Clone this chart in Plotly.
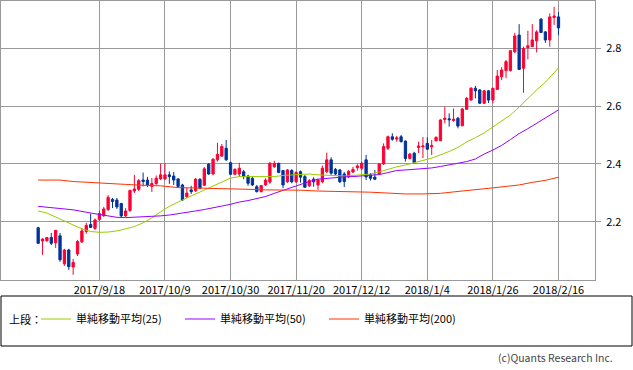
import pandas as pd
import plotly.graph_objects as go

# ---- categories: trading days (US bond market) ----
holidays = ["2017-09-04", "2017-11-23", "2017-12-25", "2018-01-01", "2018-01-15"]
dates = [d.strftime("%Y-%m-%d") for d in pd.bdate_range("2017-08-28", "2018-02-16")
         if d.strftime("%Y-%m-%d") not in holidays]

tick_dates = ["2017-09-18", "2017-10-09", "2017-10-30", "2017-11-20",
              "2017-12-12", "2018-01-04", "2018-01-26", "2018-02-16"]
tick_text = ["2017/9/18", "2017/10/9", "2017/10/30", "2017/11/20",
             "2017/12/12", "2018/1/4", "2018/1/26", "2018/2/16"]
y_ticks = [2.2, 2.4, 2.6, 2.8]

# ---- OHLC ----
open_ = [
    2.179, 2.133, 2.134, 2.145, 2.127, 2.151, 2.054, 2.102, 2.043, 2.088,
    2.130, 2.166, 2.190, 2.177, 2.208, 2.221, 2.242, 2.277, 2.275, 2.263,
    2.220, 2.239, 2.306, 2.312, 2.344, 2.344, 2.322, 2.332, 2.348, 2.348,
    2.362, 2.358, 2.348, 2.327, 2.286, 2.310, 2.307, 2.347, 2.326, 2.399,
    2.365, 2.414, 2.427, 2.454, 2.404, 2.364, 2.365, 2.373, 2.358, 2.350,
    2.321, 2.304, 2.327, 2.337, 2.390, 2.402, 2.377, 2.338, 2.377, 2.338,
    2.373, 2.356, 2.324, 2.347, 2.327, 2.338, 2.373, 2.414, 2.381, 2.379,
    2.365, 2.355, 2.372, 2.387, 2.385, 2.414, 2.362, 2.354, 2.365, 2.400,
    2.454, 2.494, 2.486, 2.494, 2.479, 2.419, 2.437, 2.457, 2.459, 2.471,
    2.459, 2.480, 2.480, 2.554, 2.556, 2.550, 2.558, 2.532, 2.589, 2.621,
    2.662, 2.656, 2.610, 2.653, 2.621, 2.658, 2.702, 2.723, 2.723, 2.788,
    2.846, 2.731, 2.803, 2.806, 2.826, 2.901, 2.857, 2.829, 2.907, 2.909,
]
high = [
    2.182, 2.142, 2.147, 2.161, 2.171, 2.161, 2.106, 2.106, 2.071, 2.137,
    2.178, 2.196, 2.228, 2.211, 2.237, 2.251, 2.292, 2.282, 2.282, 2.265,
    2.247, 2.311, 2.362, 2.348, 2.370, 2.355, 2.351, 2.360, 2.401, 2.403,
    2.374, 2.372, 2.350, 2.331, 2.317, 2.324, 2.351, 2.350, 2.389, 2.403,
    2.420, 2.473, 2.469, 2.483, 2.408, 2.385, 2.404, 2.379, 2.362, 2.356,
    2.327, 2.327, 2.350, 2.407, 2.411, 2.404, 2.379, 2.382, 2.382, 2.375,
    2.377, 2.362, 2.348, 2.354, 2.349, 2.394, 2.439, 2.423, 2.386, 2.382,
    2.372, 2.379, 2.390, 2.399, 2.408, 2.431, 2.368, 2.379, 2.403, 2.471,
    2.498, 2.506, 2.497, 2.500, 2.481, 2.438, 2.442, 2.477, 2.493, 2.492,
    2.483, 2.495, 2.555, 2.598, 2.575, 2.592, 2.563, 2.593, 2.632, 2.666,
    2.670, 2.659, 2.656, 2.656, 2.663, 2.725, 2.735, 2.760, 2.794, 2.854,
    2.884, 2.806, 2.861, 2.884, 2.863, 2.905, 2.860, 2.921, 2.944, 2.926,
]
low = [
    2.123, 2.085, 2.130, 2.119, 2.109, 2.061, 2.047, 2.033, 2.016, 2.081,
    2.126, 2.158, 2.178, 2.171, 2.202, 2.216, 2.237, 2.247, 2.244, 2.215,
    2.216, 2.234, 2.299, 2.306, 2.322, 2.320, 2.303, 2.327, 2.344, 2.344,
    2.331, 2.327, 2.318, 2.272, 2.282, 2.296, 2.303, 2.312, 2.324, 2.362,
    2.362, 2.408, 2.424, 2.411, 2.362, 2.362, 2.356, 2.347, 2.324, 2.324,
    2.301, 2.301, 2.324, 2.331, 2.386, 2.368, 2.316, 2.334, 2.333, 2.334,
    2.335, 2.317, 2.320, 2.321, 2.310, 2.333, 2.368, 2.362, 2.360, 2.334,
    2.320, 2.351, 2.368, 2.377, 2.379, 2.344, 2.342, 2.344, 2.362, 2.396,
    2.448, 2.480, 2.477, 2.474, 2.408, 2.416, 2.402, 2.438, 2.420, 2.448,
    2.431, 2.478, 2.479, 2.541, 2.529, 2.546, 2.523, 2.531, 2.587, 2.619,
    2.627, 2.607, 2.607, 2.611, 2.610, 2.656, 2.690, 2.697, 2.720, 2.783,
    2.725, 2.646, 2.762, 2.806, 2.786, 2.853, 2.819, 2.806, 2.881, 2.846,
]
close = [
    2.125, 2.140, 2.145, 2.125, 2.170, 2.068, 2.102, 2.044, 2.059, 2.131,
    2.168, 2.187, 2.180, 2.206, 2.228, 2.244, 2.284, 2.270, 2.251, 2.220,
    2.237, 2.308, 2.313, 2.342, 2.339, 2.327, 2.332, 2.350, 2.362, 2.362,
    2.356, 2.344, 2.322, 2.275, 2.299, 2.304, 2.347, 2.316, 2.383, 2.365,
    2.416, 2.433, 2.460, 2.414, 2.364, 2.381, 2.385, 2.356, 2.333, 2.327,
    2.304, 2.325, 2.344, 2.402, 2.401, 2.370, 2.327, 2.379, 2.338, 2.370,
    2.354, 2.319, 2.342, 2.338, 2.344, 2.385, 2.414, 2.368, 2.365, 2.338,
    2.339, 2.374, 2.381, 2.393, 2.402, 2.355, 2.350, 2.347, 2.400, 2.460,
    2.494, 2.485, 2.490, 2.477, 2.419, 2.434, 2.404, 2.462, 2.462, 2.451,
    2.464, 2.492, 2.552, 2.558, 2.553, 2.555, 2.531, 2.590, 2.627, 2.662,
    2.653, 2.610, 2.653, 2.621, 2.662, 2.704, 2.725, 2.754, 2.792, 2.843,
    2.727, 2.800, 2.809, 2.829, 2.857, 2.855, 2.829, 2.909, 2.912, 2.871,
]

# ---- moving averages (read at sampled trading-day indices) ----
ma25_idx = [0, 2, 4, 6, 8, 10, 12, 14, 16, 18, 20, 22, 24, 26, 28, 30, 32, 34, 36, 38,
            40, 42, 44, 46, 48, 50, 52, 54, 56, 58, 60, 62, 64, 66, 68, 70, 72, 74, 76, 78,
            80, 82, 84, 86, 88, 90, 92, 94, 96, 98, 100, 102, 104, 106, 108, 110, 112, 114,
            116, 118, 119]
ma25_val = [2.237, 2.230, 2.216, 2.202, 2.189, 2.175, 2.166, 2.163, 2.164, 2.168,
            2.175, 2.183, 2.196, 2.213, 2.234, 2.253, 2.268, 2.282, 2.296, 2.310,
            2.324, 2.339, 2.351, 2.356, 2.356, 2.355, 2.354, 2.356, 2.360, 2.362,
            2.363, 2.365, 2.362, 2.360, 2.358, 2.358, 2.360, 2.362, 2.365, 2.372,
            2.381, 2.390, 2.396, 2.403, 2.412, 2.420, 2.431, 2.443, 2.457, 2.476,
            2.491, 2.507, 2.528, 2.547, 2.569, 2.597, 2.628, 2.656, 2.683, 2.718, 2.732]

ma50_idx = [0, 4, 8, 12, 16, 18, 20, 22, 24, 26, 28, 30, 32, 34, 36, 38, 40, 42, 44, 46,
            48, 50, 52, 54, 56, 58, 60, 62, 64, 66, 68, 70, 72, 74, 76, 78, 80, 82, 84, 86,
            88, 90, 92, 94, 96, 98, 100, 102, 104, 106, 108, 110, 112, 114, 116, 118, 119]
ma50_val = [2.253, 2.247, 2.241, 2.230, 2.220, 2.215, 2.214, 2.215, 2.216, 2.218,
            2.220, 2.223, 2.227, 2.232, 2.237, 2.242, 2.247, 2.254, 2.260, 2.268,
            2.273, 2.280, 2.287, 2.298, 2.308, 2.320, 2.329, 2.339, 2.347, 2.350,
            2.351, 2.355, 2.356, 2.358, 2.360, 2.363, 2.370, 2.377, 2.379, 2.381,
            2.383, 2.386, 2.391, 2.396, 2.401, 2.408, 2.417, 2.434, 2.448, 2.464,
            2.484, 2.505, 2.522, 2.540, 2.559, 2.576, 2.587]

ma200_idx = [0, 5, 8, 12, 16, 20, 24, 28, 32, 36, 40, 44, 48, 52, 56, 60, 64, 68, 72, 76,
             80, 84, 88, 90, 92, 95, 98, 101, 104, 107, 110, 113, 116, 119]
ma200_val = [2.344, 2.344, 2.339, 2.335, 2.331, 2.329, 2.326, 2.324, 2.318, 2.317,
             2.316, 2.313, 2.312, 2.310, 2.310, 2.309, 2.306, 2.305, 2.304, 2.302,
             2.299, 2.296, 2.296, 2.296, 2.298, 2.303, 2.307, 2.312, 2.317, 2.322,
             2.327, 2.336, 2.343, 2.354]

ma_names = ["単純移動平均(25)", "単純移動平均(50)", "単純移動平均(200)"]
ma_colors = ["#99cc00", "#9900ff", "#ff3300"]
legend_title = "上段："

FONT = "Noto Sans CJK JP, sans-serif"

fig = go.Figure()
fig.add_trace(go.Candlestick(
    x=dates, open=open_, high=high, low=low, close=close,
    increasing=dict(line=dict(color="#ff0033", width=1), fillcolor="#ff0033"),
    decreasing=dict(line=dict(color="#003399", width=1), fillcolor="#003399"),
    showlegend=False, hoverinfo="skip",
))
for idx, val, name, col in [(ma25_idx, ma25_val, ma_names[0], ma_colors[0]),
                            (ma50_idx, ma50_val, ma_names[1], ma_colors[1]),
                            (ma200_idx, ma200_val, ma_names[2], ma_colors[2])]:
    fig.add_trace(go.Scatter(
        x=[dates[i] for i in idx], y=val, mode="lines", name=name,
        line=dict(color=col, width=1), hoverinfo="skip",
    ))

W, H = 633, 370
ml, mr, mt, mb = 1, 38, 1, 90
pw, ph = W - ml - mr, H - mt - mb


def px_x(x):
    return (x - ml) / pw


def px_y(y):
    return (H - mb - y) / ph


fig.update_layout(
    width=W, height=H,
    margin=dict(l=ml, r=mr, t=mt, b=mb, pad=0),
    paper_bgcolor="white", plot_bgcolor="white",
    font=dict(family=FONT, size=11, color="#000"),
    boxgap=0.25,
    xaxis=dict(
        type="category", range=[-8.5, 127.35],
        tickvals=tick_dates, ticktext=tick_text, tickangle=0,
        showgrid=True, gridcolor="#999999", gridwidth=1,
        showline=True, linecolor="#999999", linewidth=1, mirror=True,
        ticks="", tickfont=dict(size=11, color="#000"),
        rangeslider=dict(visible=False), zeroline=False,
    ),
    yaxis=dict(
        range=[1.998, 2.964], side="right",
        tickvals=y_ticks, ticktext=[f"{v:.1f}" for v in y_ticks],
        showgrid=True, gridcolor="#999999", gridwidth=1,
        showline=True, linecolor="#999999", linewidth=1, mirror=True,
        ticks="outside", ticklen=5, tickcolor="#999999", tickwidth=1,
        ticklabelstandoff=3,
        tickfont=dict(size=11, color="#000"), zeroline=False,
    ),
    legend=dict(
        orientation="h", x=px_x(36), xanchor="left", y=px_y(319), yanchor="middle",
        font=dict(size=11, color="#000"), bgcolor="rgba(0,0,0,0)", borderwidth=0,
        entrywidth=99, entrywidthmode="pixels", traceorder="normal",
    ),
    shapes=[dict(type="rect", xref="paper", yref="paper",
                 x0=px_x(1), x1=px_x(632), y0=px_y(346), y1=px_y(296),
                 line=dict(color="#000", width=1), fillcolor="rgba(0,0,0,0)", layer="above")],
    annotations=[
        dict(text=legend_title, xref="paper", yref="paper",
             x=px_x(7), y=px_y(319), xanchor="left", yanchor="middle",
             showarrow=False, font=dict(size=11, color="#000")),
        dict(text="(c)Quants Research Inc.", xref="paper", yref="paper",
             x=px_x(615), y=px_y(357), xanchor="right", yanchor="middle",
             showarrow=False, font=dict(size=10.5, color="#444")),
    ],
    hovermode=False,
)

fig.write_html("out.html", config={"displayModeBar": False},
               post_script="document.body.style.margin='0px';")
